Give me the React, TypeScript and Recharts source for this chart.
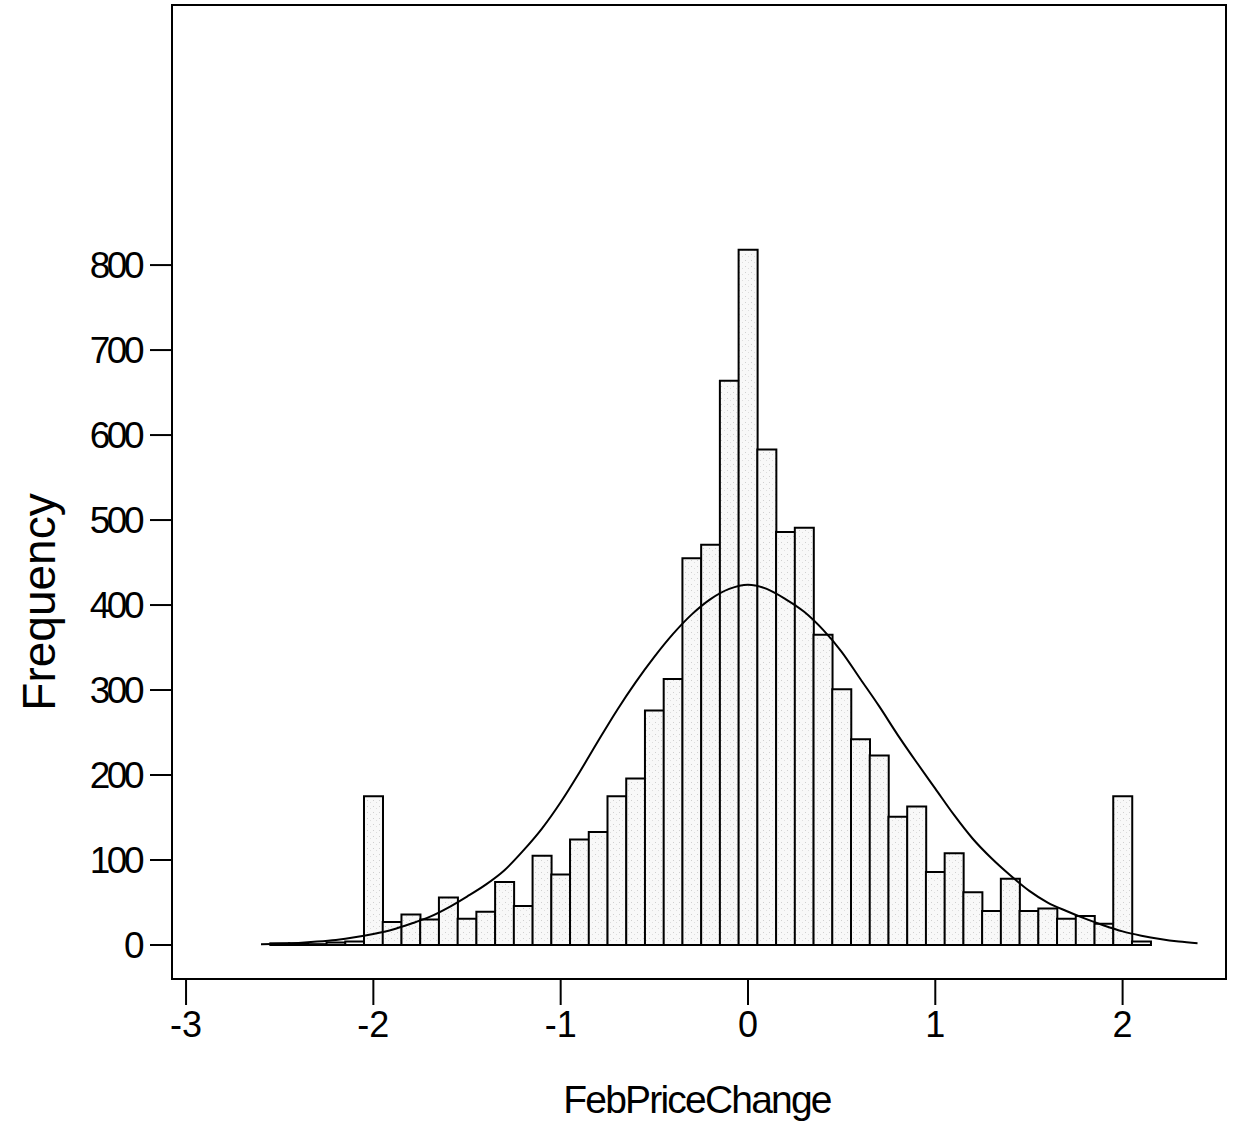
import {
  ComposedChart,
  Bar,
  Line,
  XAxis,
  YAxis,
  ReferenceArea,
} from "recharts";

// bin centres (width 0.1) — the fitted curve shares the same x positions
const binCenters = [
  -2.6, -2.5, -2.4, -2.3, -2.2, -2.1, -2.0, -1.9, -1.8, -1.7, -1.6, -1.5, -1.4,
  -1.3, -1.2, -1.1, -1.0, -0.9, -0.8, -0.7, -0.6, -0.5, -0.4, -0.3, -0.2, -0.1,
  0.0, 0.1, 0.2, 0.3, 0.4, 0.5, 0.6, 0.7, 0.8, 0.9, 1.0, 1.1, 1.2, 1.3, 1.4,
  1.5, 1.6, 1.7, 1.8, 1.9, 2.0, 2.1, 2.2, 2.3, 2.4,
];

// histogram frequencies
const counts: (number | null)[] = [
  null, 2, 2, 1, 3, 4, 175, 27, 36, 30, 56, 31, 39,
  74, 46, 105, 83, 124, 133, 175, 196, 276, 313, 455, 471, 664,
  818, 583, 486, 491, 365, 301, 242, 223, 151, 163, 86, 108, 62, 40, 78,
  40, 43, 31, 34, 25, 175, 4, null, null, null,
];

// fitted normal curve
const normalFit = [
  1, 1.5, 2.5, 4, 6, 9, 13, 18, 25, 33, 44, 57, 71,
  88, 111, 137, 168, 203, 240, 276, 309, 339, 366, 389, 407, 419,
  424, 419, 407, 392, 371, 345, 313, 281, 247, 215, 184, 153, 125, 102, 82,
  64, 50, 40, 31, 23, 16, 11, 7, 4, 2,
];

const xTicks = [-3, -2, -1, 0, 1, 2];
const yTicks = [0, 100, 200, 300, 400, 500, 600, 700, 800];

const X_DOMAIN: [number, number] = [-3.075, 2.552];
const Y_DOMAIN: [number, number] = [-40, 1106];

const FONT = "'Liberation Sans', Arial, sans-serif";

export default function App() {
  const data = binCenters.map((x, i) => ({ x, count: counts[i], fit: normalFit[i] }));

  return (
    <div style={{ position: "absolute", left: 0, top: 0, background: "#fff" }}>
      <ComposedChart
        width={1233}
        height={1137}
        data={data}
        margin={{ top: 5, right: 7, left: 0, bottom: 0 }}
        barCategoryGap={0}
        barGap={0}
      >
        <defs>
          <pattern id="stipple" width="6" height="6" patternUnits="userSpaceOnUse">
            <rect width="6" height="6" fill="#f8f8f8" />
            <rect x="1" y="2" width="1" height="1" fill="#cfcfcf" />
            <rect x="4" y="4" width="1" height="1" fill="#dddddd" />
          </pattern>
        </defs>
        <XAxis
          type="number"
          dataKey="x"
          domain={X_DOMAIN}
          ticks={xTicks}
          allowDataOverflow
          height={158}
          tickSize={26}
          tickMargin={6}
          axisLine={{ stroke: "#000", strokeWidth: 2 }}
          tickLine={{ stroke: "#000", strokeWidth: 2 }}
          tick={{ fill: "#000", fontSize: 36, fontFamily: FONT }}
          label={{
            content: () => (
              <text
                x={697}
                y={1113}
                textAnchor="middle"
                fontSize={39}
                letterSpacing={-1.8}
                fontFamily={FONT}
                fill="#000"
              >
                FebPriceChange
              </text>
            ),
          }}
        />
        <YAxis
          type="number"
          domain={Y_DOMAIN}
          ticks={yTicks}
          allowDataOverflow
          width={172}
          tickSize={22}
          tickMargin={9}
          axisLine={{ stroke: "#000", strokeWidth: 2 }}
          tickLine={{ stroke: "#000", strokeWidth: 2 }}
          tick={{ fill: "#000", fontSize: 37, fontFamily: FONT, letterSpacing: -3.5 }}
          label={{
            content: () => (
              <text
                x={55}
                y={602}
                transform="rotate(-90 55 602)"
                textAnchor="middle"
                fontSize={46}
                fontFamily={FONT}
                fill="#000"
              >
                Frequency
              </text>
            ),
          }}
        />
        <ReferenceArea
          x1={X_DOMAIN[0]}
          x2={X_DOMAIN[1]}
          y1={Y_DOMAIN[0]}
          y2={Y_DOMAIN[1]}
          fill="none"
          stroke="#000"
          strokeWidth={2}
        />
        <Bar
          dataKey="count"
          fill="url(#stipple)"
          stroke="#000"
          strokeWidth={2}
          isAnimationActive={false}
        />
        <Line
          type="monotone"
          dataKey="fit"
          stroke="#000"
          strokeWidth={2}
          dot={false}
          isAnimationActive={false}
        />
      </ComposedChart>
    </div>
  );
}
